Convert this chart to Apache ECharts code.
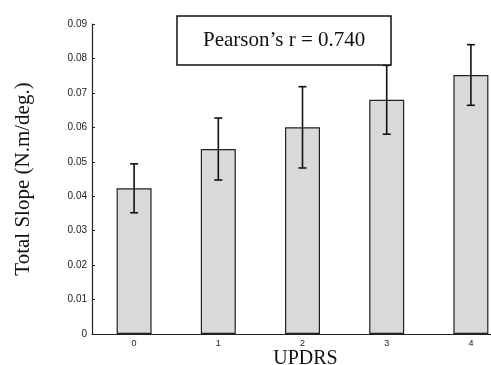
<!DOCTYPE html>
<html><head><meta charset="utf-8">
<script src="https://cdn.jsdelivr.net/npm/echarts@6/dist/echarts.min.js"></script>
<style>html,body{margin:0;padding:0;background:#fff}#c{width:491px;height:365px}</style>
</head><body><div id="c"></div>
<script>
const categories = ['0','1','2','3','4'];
const meanValues = [0.0423, 0.0537, 0.0600, 0.0680, 0.0752];
const errValues = [0.0071, 0.0090, 0.0118, 0.0100, 0.0088];
const yTicks = [0, 0.01, 0.02, 0.03, 0.04, 0.05, 0.06, 0.07, 0.08, 0.09];
const annotation = 'Pearson\u2019s r = 0.740';

const chart = echarts.init(document.getElementById('c'));
const errData = meanValues.map((v, i) => [i, v - errValues[i], v + errValues[i]]);
chart.setOption({
  animation: false,
  backgroundColor: '#fff',
  title: {
    text: annotation,
    left: 177, top: 16,
    padding: [14, 26, 14, 26],
    borderColor: '#111', borderWidth: 1.5,
    backgroundColor: '#fff',
    textStyle: { fontFamily: 'Liberation Serif', fontSize: 21, fontWeight: 'normal', color: '#111' }
  },
  grid: { left: 92, right: -22, top: 24, bottom: 31, outerBoundsMode: 'none', containLabel: false },
  xAxis: {
    type: 'category', data: categories, boundaryGap: true,
    name: 'UPDRS', nameLocation: 'middle', nameGap: 15, nameMoveOverlap: false,
    nameTextStyle: { fontFamily: 'Liberation Serif', fontSize: 20, color: '#111', lineHeight: 20, padding: [0, 0, 0, 6] },
    axisLine: { lineStyle: { color: '#222', width: 1.2 } },
    axisTick: { show: false },
    axisLabel: { fontFamily: 'Liberation Sans', fontSize: 9, color: '#222', margin: 5 }
  },
  yAxis: {
    type: 'value', min: 0, max: 0.09, interval: 0.01,
    name: 'Total Slope (N.m/deg.)', nameLocation: 'middle', nameGap: 58, nameRotate: 90, nameMoveOverlap: false,
    nameTextStyle: { fontFamily: 'Liberation Serif', fontSize: 21, color: '#111' },
    axisLine: { show: true, lineStyle: { color: '#222', width: 1.2 } },
    axisTick: { show: true, inside: true, length: 3, lineStyle: { color: '#222' } },
    splitLine: { show: false },
    axisLabel: {
      fontFamily: 'Liberation Sans', fontSize: 10, color: '#222', margin: 5,
      formatter: v => { const t = yTicks.find(x => Math.abs(x - v) < 1e-9); return t === 0 ? '0' : (t !== undefined ? t.toFixed(2) : ''); }
    }
  },
  series: [
    {
      type: 'bar', data: meanValues, barWidth: 35,
      itemStyle: { color: '#d9d9d9', borderColor: '#222', borderWidth: 1.2 },
      z: 2
    },
    {
      type: 'custom', data: errData, z: 3,
      renderItem: (params, api) => {
        const x = api.value(0);
        const lo = api.coord([x, api.value(1)]);
        const hi = api.coord([x, api.value(2)]);
        const w = 4;
        const st = { stroke: '#111', lineWidth: 1.6 };
        return { type: 'group', children: [
          { type: 'line', shape: { x1: lo[0], y1: lo[1], x2: hi[0], y2: hi[1] }, style: st },
          { type: 'line', shape: { x1: lo[0]-w, y1: lo[1], x2: lo[0]+w, y2: lo[1] }, style: st },
          { type: 'line', shape: { x1: hi[0]-w, y1: hi[1], x2: hi[0]+w, y2: hi[1] }, style: st }
        ]};
      }
    }
  ]
});
</script></body></html>
